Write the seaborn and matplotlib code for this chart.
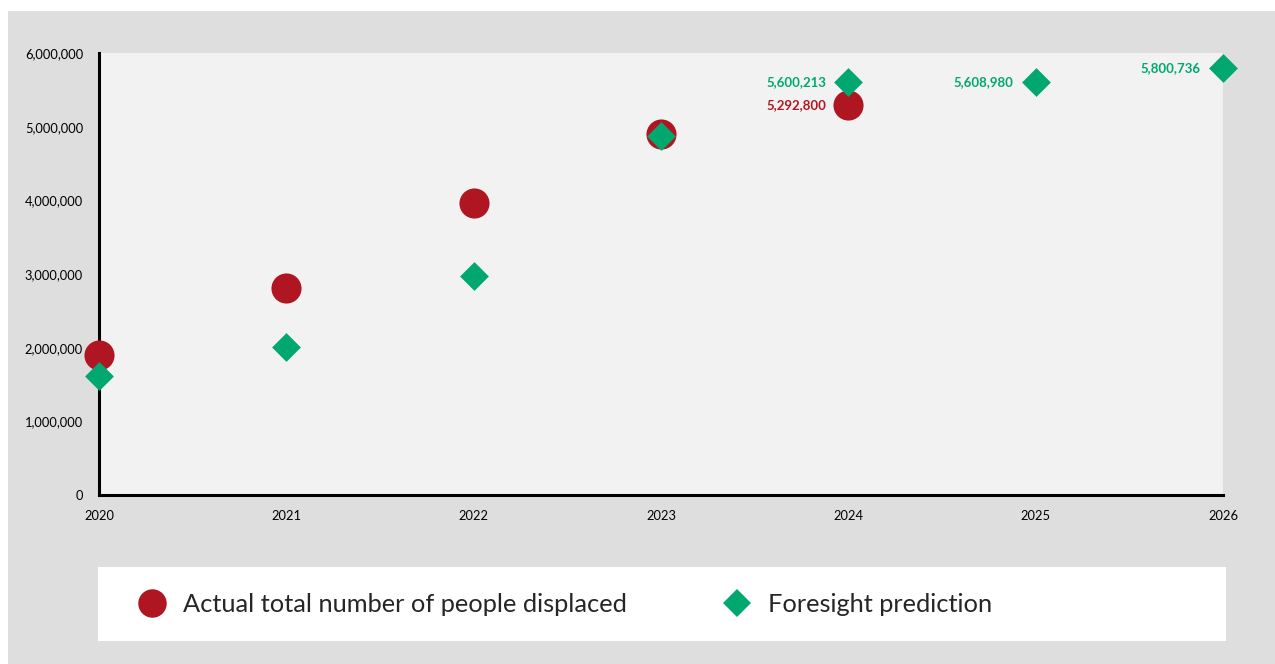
import matplotlib
matplotlib.use("Agg")
import matplotlib.pyplot as plt
from matplotlib.patches import Rectangle
from matplotlib.lines import Line2D
from matplotlib.ticker import FuncFormatter
import seaborn as sns
import pandas as pd

# ---- data ----
actual_years = [2020, 2021, 2022, 2023, 2024]
actual_values = [1900000, 2810000, 3960000, 4900000, 5292800]
pred_years = [2020, 2021, 2022, 2023, 2024, 2025, 2026]
pred_values = [1615000, 2010000, 2975000, 4870000, 5600213, 5608980, 5800736]
labelled_actual = {2024: 5292800}
labelled_pred = {2024: 5600213, 2025: 5608980, 2026: 5800736}
series_names = ["Actual total number of people displaced", "Foresight prediction"]
x_ticks = [2020, 2021, 2022, 2023, 2024, 2025, 2026]
y_ticks = [0, 1000000, 2000000, 3000000, 4000000, 5000000, 6000000]

RED = "#B01621"
GREEN = "#00A870"
PANEL = "#DEDEDE"
PLOT_BG = "#F2F2F2"

sns.set_style("white")
plt.rcParams["font.family"] = ["Lato", "DejaVu Sans"]

df_a = pd.DataFrame({"year": actual_years, "value": actual_values})
df_p = pd.DataFrame({"year": pred_years, "value": pred_values})

fig = plt.figure(figsize=(12.75, 6.64), dpi=100)
fig.patch.set_facecolor("white")
fig.add_artist(Rectangle((8 / 1275, 0), 1 - 8 / 1275, 1 - 11 / 664,
                         transform=fig.transFigure, facecolor=PANEL,
                         edgecolor="none", zorder=-10))
# legend white box
fig.add_artist(Rectangle((98 / 1275, 1 - 641 / 664), (1226 - 98) / 1275, (641 - 567) / 664,
                         transform=fig.transFigure, facecolor="white",
                         edgecolor="none", zorder=-5))

ax = fig.add_axes([99 / 1275, 1 - 495 / 664, (1223 - 99) / 1275, (495 - 53) / 664])
ax.set_facecolor(PLOT_BG)

sns.scatterplot(data=df_a, x="year", y="value", ax=ax, color=RED, marker="o",
                s=470, linewidth=0, clip_on=False, zorder=3, legend=False)
sns.scatterplot(data=df_p, x="year", y="value", ax=ax, color=GREEN, marker="D",
                s=215, linewidth=0, clip_on=False, zorder=4, legend=False)

for yr, v in labelled_pred.items():
    ax.annotate(f"{v:,}", (yr, v), xytext=(-16, 0), textcoords="offset points",
                ha="right", va="center", color=GREEN, fontsize=9.5,
                fontweight="bold", zorder=5)
for yr, v in labelled_actual.items():
    ax.annotate(f"{v:,}", (yr, v), xytext=(-16, 0), textcoords="offset points",
                ha="right", va="center", color=RED, fontsize=9.5,
                fontweight="bold", zorder=5)

ax.set_xlim(2020, 2026)
ax.set_ylim(0, 6000000)
ax.set_xticks(x_ticks)
ax.set_xticklabels([str(t) for t in x_ticks])
ax.set_yticks(y_ticks)
ax.yaxis.set_major_formatter(FuncFormatter(lambda v, p: f"{int(v):,}"))
ax.set_xlabel("")
ax.set_ylabel("")

for s in ["top", "right"]:
    ax.spines[s].set_visible(False)
for s in ["left", "bottom"]:
    ax.spines[s].set_color("black")
    ax.spines[s].set_linewidth(2.2)
ax.tick_params(axis="both", direction="out", length=5.5, width=2.2, color="black",
               labelsize=9.3, labelcolor="black")
ax.tick_params(axis="y", pad=6)
ax.tick_params(axis="x", pad=5)
ax.grid(False)

h1 = Line2D([], [], marker="o", linestyle="none", color=RED, markersize=20.5,
            markeredgewidth=0)
h2 = Line2D([], [], marker="D", linestyle="none", color=GREEN, markersize=14.5,
            markeredgewidth=0)
ly = 1 - 604 / 664
for h, name, x0 in [(h1, series_names[0], 139.5 / 1275), (h2, series_names[1], 724.5 / 1275)]:
    fig.legend(handles=[h], labels=[name], loc="center left",
               bbox_to_anchor=(x0, ly), bbox_transform=fig.transFigure,
               frameon=False, fontsize=18.3, borderpad=0, borderaxespad=0,
               handlelength=1.0, handletextpad=0.7)

fig.savefig("out.png", dpi=100)
